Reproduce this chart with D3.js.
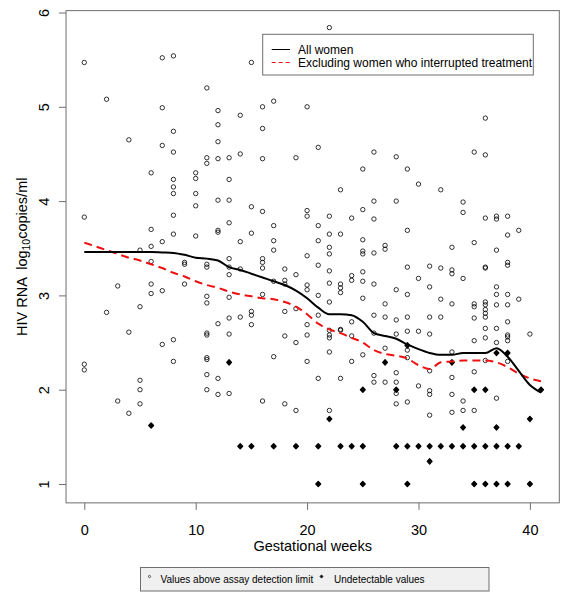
<!DOCTYPE html>
<html><head><meta charset="utf-8">
<script src="https://cdn.jsdelivr.net/npm/d3@7/dist/d3.min.js"></script>
<style>body{margin:0;background:#fff}svg{display:block;font-family:"Liberation Sans",Arial,sans-serif}</style>
</head><body><svg id="c" width="571" height="600"></svg>
<script>
// Detectable values (open circles): [gestational week, log10 copies/ml]
const detectable = [
[0,5.47],[7,5.52],[8,5.54],[2,5.08],[7,4.99],[8,4.74],[4,4.65],[7,4.59],[8,4.52],
[15,5.47],[11,5.20],[12,4.96],[14,4.91],[16,5.00],[17,5.06],[20,5.00],[12,4.81],[16,4.77],[12,4.63],[11,4.46],[11,4.40],[12,4.45],[13,4.46],[14,4.50],[16,4.45],[19,4.46],
[22,5.84],[21,4.57],[26,4.52],[28,4.47],[25,4.34],[29,4.34],
[36,4.88],[35,4.52],[36,4.49],
[6,4.30],[8,4.23],[8,4.15],[8,4.08],[0,3.83],[8,3.85],[6,3.70],[8,3.65],[7,3.57],[5,3.48],[6,3.52],[6,3.36],[9,3.35],[9,3.33],[3,3.10],[6,3.12],[6,3.02],[7,3.05],[9,3.12],[5,2.88],[2,2.82],
[10,4.30],[10,4.24],[13,4.23],[10,4.08],[10,3.95],[12,4.01],[13,4.01],[15,3.94],[16,3.89],[13,3.77],[17,3.74],[10,3.63],[12,3.69],[12,3.67],[15,3.66],[14,3.57],[17,3.58],[17,3.48],[20,3.42],[11,3.33],[11,3.30],[13,3.39],[13,3.30],[14,3.28],[16,3.39],[16,3.35],[16,3.29],[18,3.28],[19,3.22],[13,3.22],[17,3.15],[18,3.16],[18,3.12],[20,3.11],[20,3.06],[11,2.99],[11,2.92],[13,2.98],[16,3.01],[15,2.83],[15,2.79],[18,2.83],[19,2.86],[13,2.76],[14,2.77],[12,2.70],[15,2.69],[20,2.69],
[30,4.18],[23,4.12],[26,4.00],[28,4.00],[25,3.91],[20,3.90],[20,3.84],[22,3.84],[24,3.82],[26,3.81],[21,3.74],[22,3.65],[23,3.65],[21,3.58],[25,3.59],[29,3.69],[27,3.53],[27,3.49],[22,3.51],[22,3.44],[25,3.47],[25,3.44],[26,3.45],[21,3.32],[22,3.26],[25,3.25],[24,3.21],[24,3.16],[25,3.15],[26,3.12],[22,3.13],[23,3.12],[23,3.08],[23,3.03],[29,3.30],[30,3.18],[31,3.31],[31,3.09],[28,3.06],[29,3.01],[21,3.00],[22,2.93],[25,2.97],[27,2.91],[21,2.79],[26,2.79],[27,2.77],[28,2.74],[29,2.77],[31,2.77],[24,2.72],[23,2.64],
[32,4.12],[34,3.99],[34,3.88],[36,3.82],[37,3.84],[37,3.81],[38,3.84],[39,3.69],[38,3.64],[33,3.51],[35,3.56],[37,3.48],[32,3.29],[33,3.27],[33,3.23],[36,3.30],[36,3.29],[38,3.35],[38,3.32],[34,3.18],[37,3.09],[37,3.01],[38,3.01],[32,2.96],[33,2.91],[35,2.91],[35,2.88],[35,2.76],[36,2.93],[36,2.90],[36,2.85],[36,2.81],[36,2.77],[37,2.90],[38,2.90],[39,2.96],[32,2.77],[38,2.72],[36,2.65],[37,2.65],
[0,2.27],[0,2.21],[4,2.61],[7,2.48],[8,2.53],[8,2.30],[11,2.60],[11,2.58],[13,2.59],[17,2.35],[18,2.57],[19,2.50],[20,2.58],[20,2.30],[11,2.34],[11,2.32],[11,2.16],[12,2.12],[11,2.00],[12,1.95],[13,1.96],[5,2.10],[5,2.00],[3,1.88],[5,1.85],[4,1.75],[16,1.88],[18,1.85],[19,1.78],
[22,2.63],[22,2.58],[22,2.55],[22,2.40],[21,2.12],[23,2.63],[23,2.12],[22,1.78],[24,2.57],[24,2.30],[25,2.37],[26,2.60],[26,2.15],[26,2.08],[27,2.44],[27,2.08],[28,2.59],[28,2.18],[28,2.08],[28,1.96],[28,1.85],[29,2.62],[29,2.42],[29,2.34],[29,1.87],[30,2.62],[30,2.04],[31,2.59],[31,2.20],[31,1.99],[31,1.95],[31,1.73],[33,2.40],[33,2.13],[33,1.95],[33,1.76],[34,1.88],[34,1.78],[35,2.52],[35,2.19],[35,1.78],[36,2.55],[36,2.31],[37,2.50],[37,1.91],[38,2.58],[38,2.56],[38,2.52],[38,2.30],[40,2.59]
];
// Undetectable values (filled symbols)
const undetectable = [
[13,2.29],[6,1.62],[14,1.40],[15,1.40],[17,1.40],[19,1.40],
[21,1.40],[23,1.40],[24,1.40],[25,1.40],[28,1.40],[29,1.40],[30,1.40],[31,1.40],[32,1.40],[33,1.40],[34,1.40],[35,1.40],[36,1.40],[37,1.40],[38,1.40],[39,1.40],
[21,1.0],[25,1.0],[29,1.0],[35,1.0],[36,1.0],[37,1.0],[38,1.0],[40,1.0],
[31,1.24],[22,1.69],[34,1.60],[37,1.60],[40,1.69],[25,2.00],[28,2.00],[35,2.00],[36,2.00],[41,2.00],
[29,2.47],[27,2.29],[33,2.29],[37,2.39],[38,2.39]
];
// Smoothed curves by week
const curveWeeks = d3.range(0, 42);
const allWomen = [3.46,3.46,3.46,3.46,3.46,3.46,3.46,3.455,3.45,3.43,3.40,3.39,3.37,3.30,3.27,3.23,3.19,3.15,3.11,3.05,2.97,2.87,2.80,2.80,2.79,2.72,2.60,2.57,2.54,2.48,2.43,2.39,2.37,2.37,2.39,2.39,2.39,2.44,2.35,2.20,2.05,1.97];
const excluding = [3.56,3.52,3.48,3.44,3.40,3.37,3.33,3.29,3.24,3.20,3.15,3.11,3.08,3.04,3.01,2.99,2.97,2.96,2.93,2.88,2.80,2.70,2.64,2.60,2.55,2.50,2.42,2.38,2.36,2.33,2.26,2.22,2.29,2.30,2.31,2.31,2.31,2.29,2.24,2.17,2.12,2.09];
const xTicks = [0,10,20,30,40];
const yTicks = [1,2,3,4,5,6];
const seriesNames = ["All women","Excluding women who interrupted treatment"];
const pointLegend = ["Values above assay detection limit","Undetectable values"];

const svg = d3.select("#c");
const x = d3.scaleLinear().domain([0,40]).range([84.3,529.9]);
const y = d3.scaleLinear().domain([1,6]).range([484,12.5]);
const axisCol = "#6e6e6e";
const boxL = x(-1.64), boxR = x(42.64), boxT = y(6.02), boxB = y(0.80);

svg.append("rect").attr("x",boxL).attr("y",boxT).attr("width",boxR-boxL).attr("height",boxB-boxT)
  .attr("fill","none").attr("stroke",axisCol).attr("stroke-width",1);

const gx = svg.append("g").attr("transform",`translate(0,${boxB})`)
  .call(d3.axisBottom(x).tickValues(xTicks).tickSize(7).tickPadding(15).tickFormat(d3.format("d")));
const gy = svg.append("g").attr("transform",`translate(${boxL},0)`)
  .call(d3.axisLeft(y).tickValues(yTicks).tickSize(7).tickFormat(d3.format("d")));
[gx,gy].forEach(g=>{
  g.select(".domain").remove();
  g.selectAll(".tick line").attr("stroke",axisCol);
  g.selectAll("text").attr("fill","#000").style("font-size","14.5px").style("font-family","Liberation Sans, Arial, sans-serif");
});
gy.selectAll(".tick text").attr("x",null).attr("dy",null)
  .attr("text-anchor","middle").attr("transform","translate(-17,0) rotate(-90)").attr("dy","0");

svg.append("text").attr("x",(boxL+boxR)/2).attr("y",550.5).attr("text-anchor","middle")
  .style("font-size","14.5px").text("Gestational weeks");
const yl = svg.append("text").attr("transform",`translate(27,${(boxT+boxB)/2}) rotate(-90)`)
  .attr("text-anchor","middle").style("font-size","14.5px").style("white-space","pre");
yl.append("tspan").text("HIV RNA  log");
yl.append("tspan").attr("baseline-shift","-30%").style("font-size","10.5px").text("10");
yl.append("tspan").text("copies/ml");

// points
svg.append("g").selectAll("circle").data(detectable).join("circle")
  .attr("cx",d=>x(d[0])).attr("cy",d=>y(d[1])).attr("r",2.2)
  .attr("fill","none").attr("stroke","#000").attr("stroke-width",0.8);
const diamond = "M0,-2.6L2.4,0L0,2.6L-2.4,0Z";
svg.append("g").selectAll("path").data(undetectable).join("path")
  .attr("transform",d=>`translate(${x(d[0])},${y(d[1])})`).attr("d",diamond)
  .attr("fill","#000").attr("stroke","#000").attr("stroke-width",1.3).attr("stroke-linejoin","round");

const line = d3.line().x((d,i)=>x(curveWeeks[i])).y(d=>y(d)).curve(d3.curveMonotoneX);
svg.append("path").attr("d",line(excluding)).attr("fill","none").attr("stroke","#ee1111")
  .attr("stroke-width",2).attr("stroke-dasharray","8,5");
svg.append("path").attr("d",line(allWomen)).attr("fill","none").attr("stroke","#000").attr("stroke-width",2);

// top legend
const lg = svg.append("g");
lg.append("rect").attr("x",262.7).attr("y",34.3).attr("width",270.6).attr("height",40.7)
  .attr("fill","#fff").attr("stroke",axisCol);
[[0,"#000",null],[1,"#ee1111","4,3"]].forEach(([i,c,da])=>{
  const yy = 49.5 + i*13;
  lg.append("line").attr("x1",271.7).attr("x2",290).attr("y1",yy).attr("y2",yy)
    .attr("stroke",c).attr("stroke-width",1).attr("stroke-dasharray",da);
  lg.append("text").attr("x",298).attr("y",yy+4.2).style("font-size","12px").text(seriesNames[i]);
});

// bottom legend
const bl = svg.append("g");
bl.append("rect").attr("x",140.5).attr("y",567.5).attr("width",348.5).attr("height",23.5)
  .attr("fill","#f0f0f0").attr("stroke",axisCol);
bl.append("circle").attr("cx",149.5).attr("cy",576.5).attr("r",1.1).attr("fill","none").attr("stroke","#000").attr("stroke-width",0.6);
bl.append("text").attr("x",160.5).attr("y",582.5).style("font-size","10px").text(pointLegend[0]);
bl.append("path").attr("transform","translate(321.5,576.5)").attr("d","M0,-1.6L1.4,0L0,1.6L-1.4,0Z").attr("fill","#000").attr("stroke","#000").attr("stroke-width",0.8);
bl.append("text").attr("x",334).attr("y",582.5).style("font-size","10px").text(pointLegend[1]);
</script></body></html>
